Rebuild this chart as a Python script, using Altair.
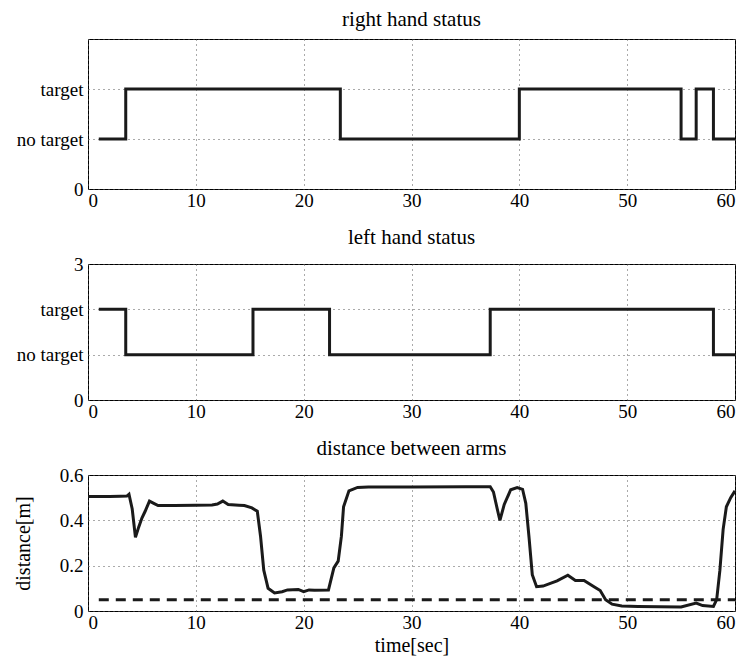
import altair as alt
import pandas as pd

# right hand status (step-after)
rh_t = [1.0, 3.5, 23.4, 40.0, 55.0, 56.4, 58.0, 60.0]
rh_v = [1, 2, 1, 2, 1, 2, 1, 1]
# left hand status (step-after)
lh_t = [1.0, 3.5, 15.3, 22.4, 37.3, 58.0, 60.0]
lh_v = [2, 1, 2, 1, 2, 1, 1]

# distance between arms
d_t = [0, 1, 2, 3, 3.6, 3.8, 4.1, 4.4, 4.7, 5.0, 5.3, 5.7, 6.1, 6.5, 8, 10, 11.5, 12.0, 12.5, 13.0,
       14.0, 14.5, 15.2, 15.7, 16.0, 16.3, 16.7, 17.3, 18.0, 18.5, 19.5, 20.0, 20.5, 21.0, 22.3,
       22.8, 23.2, 23.5, 23.7, 24.2, 25.0, 26.0, 30, 35, 37.3, 37.6, 38.0, 38.2, 38.6, 39.2, 39.8,
       40.3, 40.6, 40.9, 41.2, 41.6, 42.2, 43.5, 44.5, 45.2, 46.0, 47.0, 47.5, 48.0, 48.6, 49.5,
       51.0, 55.0, 56.4, 57.0, 58.0, 58.3, 58.6, 58.9, 59.2, 59.6, 60.0]
d_v = [0.505, 0.505, 0.505, 0.506, 0.507, 0.515, 0.45, 0.325, 0.37, 0.41, 0.44, 0.485, 0.475, 0.465,
       0.465, 0.467, 0.468, 0.472, 0.485, 0.47, 0.467, 0.465, 0.455, 0.44, 0.33, 0.18, 0.10, 0.08,
       0.085, 0.093, 0.095, 0.085, 0.093, 0.092, 0.093, 0.19, 0.22, 0.33, 0.46, 0.53, 0.545, 0.547,
       0.547, 0.548, 0.548, 0.525, 0.44, 0.40, 0.47, 0.535, 0.545, 0.537, 0.475, 0.325, 0.16, 0.107,
       0.11, 0.133, 0.158, 0.135, 0.135, 0.105, 0.09, 0.05, 0.03, 0.022, 0.02, 0.018, 0.035, 0.024,
       0.02, 0.05, 0.18, 0.36, 0.46, 0.50, 0.53]
thr_t = [1, 60]
thr_v = [0.05, 0.05]

FONT = "Liberation Serif, Times New Roman, Times, serif"
W = 647
LS = 19
AS = 20
TS = 21

rh = pd.DataFrame({"t": rh_t, "v": rh_v})
lh = pd.DataFrame({"t": lh_t, "v": lh_v})
dd = pd.DataFrame({"t": d_t, "v": d_v})
th = pd.DataFrame({"t": thr_t, "v": thr_v})

grid = dict(grid=True, gridDash=[1, 4], gridColor="#555", gridWidth=1, ticks=False,
            domain=False, labelFont=FONT, labelFontSize=LS, labelColor="black")


def xax(**kw):
    return alt.Axis(values=[0, 10, 20, 30, 40, 50, 60], format="d", labelPadding=2, **grid, **kw)


def status_panel(df, title, top_label, h, off):
    yaxis = alt.Axis(values=[0, 1, 2, 3], labelPadding=5, minExtent=79, maxExtent=79,
                     labelExpr="datum.value == 1 ? 'no target' : datum.value == 2 ? 'target' : datum.value == 3 ? '%s' : '0'" % top_label,
                     **grid)
    return alt.Chart(df).mark_line(interpolate="step-after", color="#1a1a1a", strokeWidth=3).encode(
        x=alt.X("t:Q", scale=alt.Scale(domain=[0, 60], nice=False), axis=xax(), title=None),
        y=alt.Y("v:Q", scale=alt.Scale(domain=[0, 3], nice=False), axis=yaxis, title=None),
    ).properties(width=W, height=h,
                 title=alt.TitleParams(title, font=FONT, fontSize=TS, fontWeight="normal",
                                       color="black", offset=off))


p1 = status_panel(rh, "right hand status", "", 150, 9)
p2 = status_panel(lh, "left hand status", "3", 136, 7)

yaxis3 = alt.Axis(values=[0, 0.2, 0.4, 0.6], labelPadding=5, minExtent=35, maxExtent=35,
                  labelExpr="datum.value == 0 ? '0' : format(datum.value, '.1f')",
                  title="distance[m]", titleFont=FONT, titleFontSize=AS, titleFontWeight="normal",
                  titleColor="black", titlePadding=20, **grid)
xaxis3 = xax(title="time[sec]", titleFont=FONT, titleFontSize=AS, titleFontWeight="normal",
             titleColor="black", titlePadding=3)

base3 = alt.Chart(dd).mark_line(color="#1a1a1a", strokeWidth=3).encode(
    x=alt.X("t:Q", scale=alt.Scale(domain=[0, 60], nice=False), axis=xaxis3),
    y=alt.Y("v:Q", scale=alt.Scale(domain=[0, 0.6], nice=False), axis=yaxis3),
)
thr = alt.Chart(th).mark_line(color="#1a1a1a", strokeWidth=3, strokeDash=[10, 7]).encode(
    x="t:Q", y="v:Q")
p3 = alt.layer(base3, thr).properties(
    width=W, height=136,
    title=alt.TitleParams("distance between arms", font=FONT, fontSize=TS, fontWeight="normal",
                          color="black", offset=7))

chart = alt.vconcat(p1, p2, p3, spacing=15).configure_view(
    stroke="black", strokeWidth=1
).properties(padding=0, background="white")

chart.save("out.html", embed_options={"renderer": "svg", "actions": False})
